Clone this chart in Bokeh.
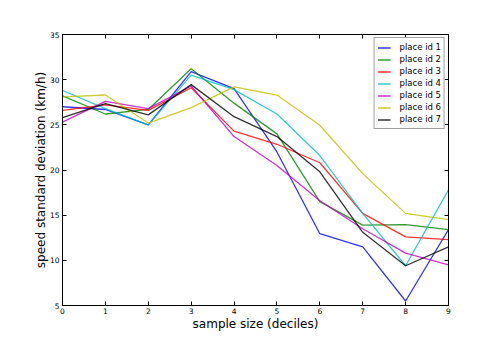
from bokeh.plotting import figure
from bokeh.models import LinearAxis, FixedTicker, Range1d, Legend, LegendItem
from bokeh.embed import file_html
from bokeh.resources import INLINE

deciles = [0, 1, 2, 3, 4, 5, 6, 7, 8, 9]
place1 = [27.0, 26.7, 25.0, 30.9, 29.0, 22.0, 12.95, 11.5, 5.5, 13.4]
place2 = [28.2, 26.2, 26.7, 31.2, 27.4, 24.0, 16.5, 13.9, 13.95, 13.4]
place3 = [26.6, 27.2, 26.6, 29.1, 24.3, 22.85, 20.8, 15.2, 12.6, 12.3]
place4 = [28.8, 26.8, 25.0, 30.5, 28.9, 26.2, 21.6, 15.2, 9.4, 17.8]
place5 = [25.3, 27.6, 26.8, 29.3, 23.7, 20.5, 16.6, 13.5, 10.8, 9.5]
place6 = [28.1, 28.3, 25.2, 26.9, 29.2, 28.3, 24.95, 19.6, 15.2, 14.5]
place7 = [25.8, 27.35, 26.1, 29.45, 25.9, 23.7, 19.8, 13.1, 9.4, 11.5]
labels = ["place id 1", "place id 2", "place id 3", "place id 4",
          "place id 5", "place id 6", "place id 7"]
colors = ["#0000ff", "#008000", "#ff0000", "#00bfbf", "#bf00bf", "#bfbf00", "#000000"]
x_ticks = [0, 1, 2, 3, 4, 5, 6, 7, 8, 9]
y_ticks = [5, 10, 15, 20, 25, 30, 35]

FONT = "DejaVu Sans"

p = figure(width=496, height=347, output_backend="svg", toolbar_location=None,
           x_range=Range1d(0, 9), y_range=Range1d(5, 35),
           min_border_left=62, min_border_right=48, min_border_top=34,
           min_border_bottom=42, x_axis_location=None, y_axis_location=None)
p.xgrid.visible = False
p.ygrid.visible = False
p.outline_line_color = "black"
p.outline_line_width = 1
p.background_fill_color = "white"
p.border_fill_color = "white"

def style(ax, ticks, show_labels):
    ax.ticker = FixedTicker(ticks=ticks)
    ax.axis_line_color = "black"
    ax.major_tick_line_color = "black"
    ax.major_tick_in = 4
    ax.major_tick_out = 0
    ax.minor_tick_line_color = None
    ax.major_label_text_font = FONT
    ax.major_label_text_font_size = "7.5px"
    ax.major_label_text_color = "black" if show_labels else None
    ax.axis_label_text_font = FONT
    ax.axis_label_text_font_size = "12px"
    ax.axis_label_text_font_style = "normal"
    ax.axis_label_text_color = "black"

xb = LinearAxis(axis_label="sample size (deciles)")
style(xb, x_ticks, True)
xb.major_label_standoff = 2
xb.axis_label_standoff = 0
p.add_layout(xb, "below")

yl = LinearAxis(axis_label="speed standard deviation (km/h)")
style(yl, y_ticks, True)
yl.major_label_standoff = 3
yl.axis_label_standoff = -1
p.add_layout(yl, "left")

xt = LinearAxis()
style(xt, x_ticks, False)
xt.major_label_text_font_size = "0px"
p.add_layout(xt, "above")

yr = LinearAxis()
style(yr, y_ticks, False)
yr.major_label_text_font_size = "0px"
p.add_layout(yr, "right")

series = [place1, place2, place3, place4, place5, place6, place7]
items = []
for ys, c, lab in zip(series, colors, labels):
    r = p.line(deciles, ys, line_color=c, line_width=1.3, line_alpha=0.8)
    items.append(LegendItem(label=lab, renderers=[r]))

legend = Legend(items=items, location="top_right")
legend.margin = 3
legend.padding = 3
legend.spacing = 0
legend.label_height = 12
legend.glyph_height = 11
legend.glyph_width = 13
legend.label_standoff = 9
legend.label_text_font = FONT
legend.label_text_font_size = "8.5px"
legend.label_text_color = "black"
legend.border_line_color = "#444444"
legend.border_line_width = 1
legend.background_fill_color = "white"
legend.background_fill_alpha = 1
p.add_layout(legend, "center")

open("out.html", "w").write(file_html(p, INLINE))
